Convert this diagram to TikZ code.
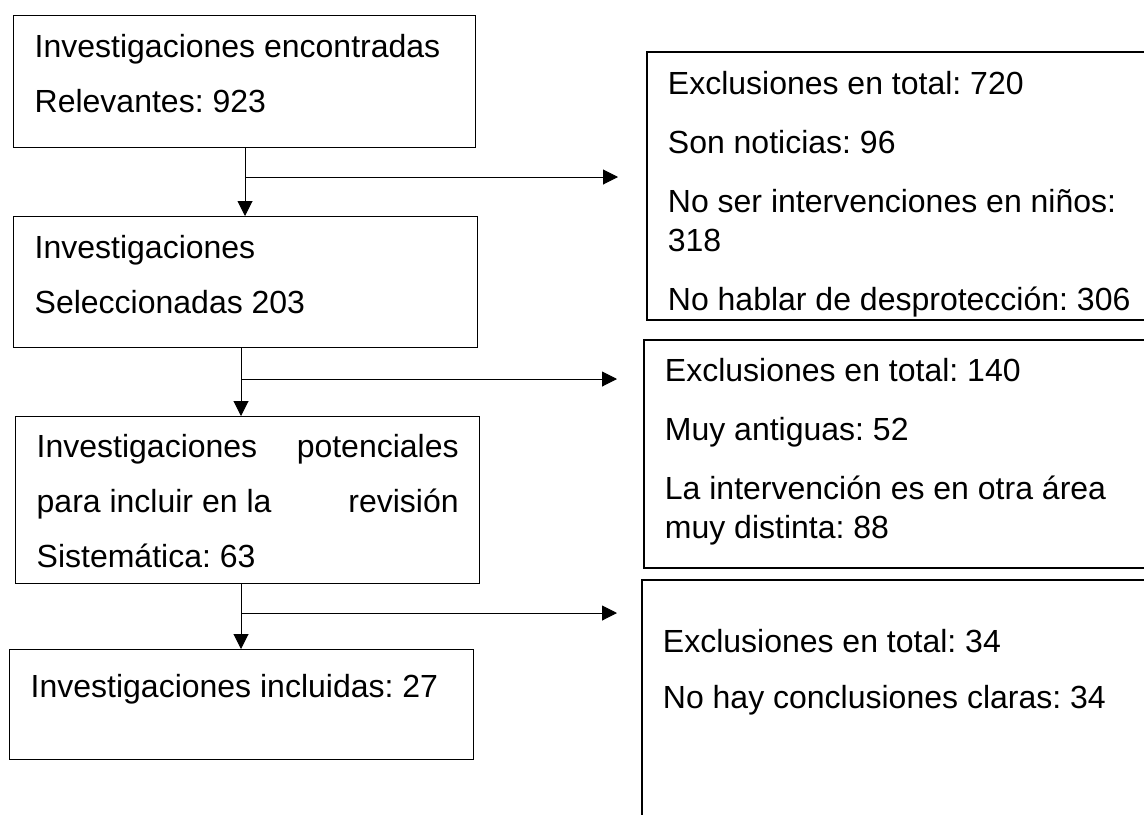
\documentclass[tikz,border=0pt]{standalone}
\usepackage{fontspec}
\setmainfont{Liberation Sans}
\usetikzlibrary{arrows.meta,positioning,calc}

\newcommand{\boxtext}[4]{\parbox[t][#2][t]{#1}{\vspace*{#3}#4}}

\begin{document}
\begin{tikzpicture}[x=0.5pt,y=-0.5pt,>={Triangle[length=7.5pt,width=7.5pt]},
  stage/.style={draw,line width=0.7pt,anchor=north west,inner xsep=10.5pt,inner ysep=0pt,
    font=\fontsize{16}{27.5}\selectfont\frenchspacing},
  excl/.style={stage,line width=0.9pt,font=\fontsize{16}{19.5}\selectfont\frenchspacing},
  flow/.style={->,line width=0.5pt}]
  \useasboundingbox (0,0) rectangle (1144,814);
  \clip (0,0) rectangle (1144,814);
  % left column
  \node[stage] (found) at (13,15) {\boxtext{210pt}{66pt}{9.3pt}{Investigaciones encontradas\\ Relevantes: 923}};
  \node[stage] (selected) at (13,216) {\boxtext{211pt}{65.5pt}{9.3pt}{Investigaciones\\ Seleccionadas 203}};
  \node[stage] (potential) at (15,416) {\boxtext{211pt}{83.5pt}{8.8pt}{Investigaciones \hfill potenciales\\ para incluir en la \hfill revisión\\ Sistemática: 63}};
  \node[stage] (included) at (9,649) {\boxtext{211pt}{55pt}{12.3pt}{Investigaciones incluidas: 27}};
  % exclusions
  \node[excl] (excl1) at (646,51) {\boxtext{241pt}{134pt}{9.5pt}{Exclusiones en total: 720\\[10pt] Son noticias: 96\\[10pt] No ser intervenciones en niños:\\ 318\\[10pt] No hablar de desprotección: 306}};
  \node[excl] (excl2) at (643,339) {\boxtext{241pt}{114pt}{9pt}{Exclusiones en total: 140\\[10pt] Muy antiguas: 52\\[10pt] La intervención es en otra área\\ muy distinta: 88}};
  \node[excl] (excl3) at (641,579) {\boxtext{241pt}{125.5pt}{24.8pt}{Exclusiones en total: 34\\[8.5pt] No hay conclusiones claras: 34}};
  % arrows
  \coordinate (split1) at (245,177);
  \coordinate (split2) at (241,379);
  \coordinate (split3) at (241,613);
  \draw[flow] (split1 |- found.south) -- (split1 |- selected.north);
  \draw[flow] (split2 |- selected.south) -- (split2 |- potential.north);
  \draw[flow] (split3 |- potential.south) -- (split3 |- included.north);
  \draw[flow,shorten >=14pt] (split1) -- (split1 -| excl1.west);
  \draw[flow,shorten >=13pt] (split2) -- (split2 -| excl2.west);
  \draw[flow,shorten >=12pt] (split3) -- (split3 -| excl3.west);
\end{tikzpicture}
\end{document}
